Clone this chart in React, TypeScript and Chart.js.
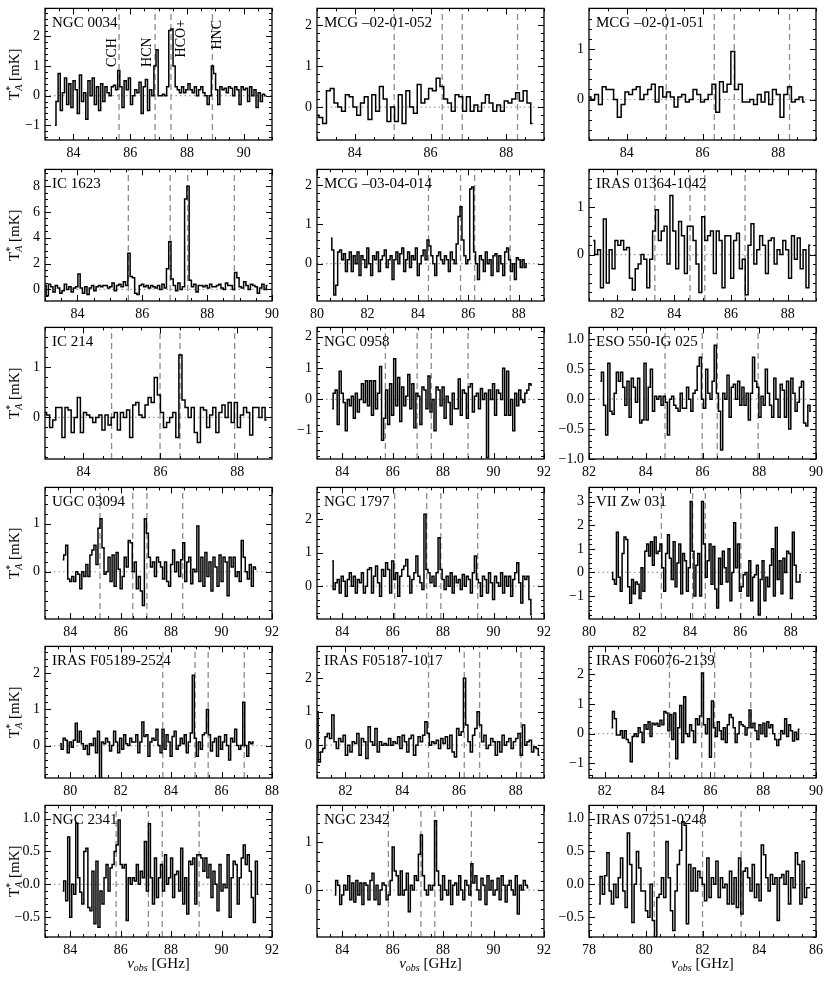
import React, { useEffect, useRef } from 'react';
import { Chart, registerables } from 'chart.js';
Chart.register(...registerables);

const FONT = '"Liberation Serif", "DejaVu Serif", serif';

const names = [
  'NGC 0034', 'MCG –02-01-052', 'MCG –02-01-051',
  'IC 1623', 'MCG –03-04-014', 'IRAS 01364-1042',
  'IC 214', 'NGC 0958', 'ESO 550-IG 025',
  'UGC 03094', 'NGC 1797', 'VII Zw 031',
  'IRAS F05189-2524', 'IRAS F05187-1017', 'IRAS F06076-2139',
  'NGC 2341', 'NGC 2342', 'IRAS 07251-0248',
];

// spectra (T*_A in mK), one value per channel
const NGC0034 = [-1.0, -0.2, 0.75, -0.5, 0.1, 0.6, -0.3, 0.4, -0.4, 0.5,
  0.2, -0.6, 0.7, -0.2, 0.1, -0.8, 0.5, 0.0, 0.6, -0.3,
  0.3, -0.5, 0.4, -0.2, 0.3, 0.1, 0.0, 0.3, 0.35, 0.2,
  0.85, 0.3, -0.4, 0.5, 0.2, 0.6, -0.3, 0.0, 0.2, 0.1,
  0.45, -0.6, 0.3, 0.55, -0.5, 0.2, 0.0, 1.0, 1.55, 0.0,
  0.0, 0.05, 0.0, 0.3, 2.2, 2.25, 1.0, 0.3, 0.2, 0.1,
  0.3, 0.1, 0.2, 0.4, 0.2, 0.1, 0.3, 0.0, 0.2, 0.3,
  0.1, 0.0, -0.3, 0.0, 1.0, 0.75, 0.2, -0.3, 0.3, 0.2,
  0.25, 0.1, 0.3, 0.25, 0.0, 0.3, 0.2, -0.3, 0.3, 0.2,
  0.25, -0.2, 0.3, 0.0, 0.2, -0.4, 0.1, -0.2, 0.05, 0.0];
const MCG0252 = [-0.2, -0.25, -0.4, 0.4, 0.45, 0.1, 0.0, -0.1, 0.3, 0.25,
  0.0, -0.2, 0.1, 0.25, -0.3, 0.3, -0.1, 0.5, 0.2, -0.35,
  0.0, -0.35, 0.3, -0.4, 0.4, 0.0, -0.15, 0.55, 0.1, 0.2,
  0.45, 0.4, 0.7, 0.5, 0.2, 0.1, -0.1, 0.3, 0.25, -0.1,
  0.25, -0.1, 0.05, -0.1, 0.1, 0.3, 0.1, -0.1, 0.05, -0.1,
  0.15, 0.1, 0.2, 0.35, 0.15, 0.4, 0.1, -0.4];
const MCG0251 = [0.05, 0.0, 0.1, -0.1, 0.25, 0.2, 0.2, 0.0, -0.35, -0.1,
  0.15, 0.1, 0.2, 0.25, 0.0, 0.1, 0.2, 0.3, -0.05, 0.25,
  0.05, 0.15, 0.05, -0.15, 0.05, 0.1, -0.05, 0.0, 0.2, 0.1,
  -0.05, 0.0, 0.1, 0.3, -0.25, 0.35, 0.15, 0.3, 0.95, 0.2,
  0.3, -0.05, -0.05, 0.0, -0.1, 0.1, -0.05, 0.15, -0.1, 0.2,
  0.1, -0.35, 0.1, 0.25, -0.05, 0.0, 0.05, -0.05];
const IC1623 = [0.3, -0.5, 0.4, 0.2, -0.2, 0.3, 0.1, -0.3, -0.1, 0.4,
  0.0, 0.2, -0.2, 0.1, 0.2, 1.2, 0.1, -0.3, 0.2, -0.4,
  0.1, 0.3, -0.1, 0.2, 0.3, 0.2, 0.3, 0.3, 0.1, 0.2,
  0.5, -0.1, 0.3, 0.4, 0.2, 0.6, 0.3, 2.8, 1.0, 0.9,
  -0.3, -0.4, 0.3, 0.4, 0.2, 0.3, 0.1, 0.3, 0.2, 0.1,
  0.3, 0.0, 0.4, 0.1, 1.6, 3.7, 0.8, 0.3, -0.1, 0.5,
  0.0, 0.2, 7.0, 8.0, 0.7, 0.2, 0.4, -0.2, 0.3, 0.3,
  0.2, 0.3, 0.1, 0.4, 0.2, 0.2, 0.3, 0.4, 0.1, 0.0,
  0.5, 0.3, 0.3, 0.0, 1.3, 0.9, 0.2, 0.1, 0.6, 0.3,
  0.0, 0.4, 0.3, 0.2, -0.3, 0.1, 0.4, 0.0, 0.3];
const MCG0304 = [0.65, 0.35, -0.8, -0.55, 0.3, 0.35, 0.1, 0.25, -0.2, 0.1,
  0.3, -0.2, 0.2, 0.0, 0.3, -0.3, 0.2, 0.1, -0.1, 0.4,
  0.0, -0.3, 0.2, 0.1, 0.3, -0.2, 0.1, 0.2, 0.35, -0.1,
  0.1, 0.2, -0.4, 0.1, 0.3, 0.0, 0.25, 0.4, -0.2, 0.1,
  0.3, -0.1, 0.2, 0.1, 0.4, -0.3, 0.0, 0.2, 0.35, 0.1,
  0.6, 0.45, 0.2, 0.0, -0.3, 0.2, 0.3, 0.1, 0.0, 0.2,
  0.1, -0.2, 0.3, 0.1, 0.0, 0.5, 1.2, 1.45, 0.6, 0.2,
  0.0, 0.1, 1.9, 1.95, 0.3, 0.0, -0.4, 0.2, 0.1, -0.2,
  0.3, 0.0, 0.1, -0.3, 0.2, 0.25, -0.2, 0.2, 0.0, -0.3,
  0.3, 0.4, 0.1, -0.2, 0.0, -0.4, 0.15, 0.1, -0.1, 0.1,
  -0.1, 0.0];
const IRAS01364 = [0.3, 0.0, 0.1, -0.7, 0.75, -0.6, 0.1, -0.3, 0.3, 0.2,
  0.3, 0.1, 0.15, -0.5, -0.75, -0.3, -0.2, 0.0, -0.1, -0.7,
  -0.1, 0.5, 0.95, 0.3, 0.5, 0.6, -0.2, 1.25, 0.5, -0.3,
  0.7, 0.4, -0.4, 0.6, 0.6, 0.3, -0.2, -0.8, 0.8, 0.3,
  0.4, 0.5, -0.4, 0.5, 0.3, -0.7, 0.4, 0.4, -0.5, 0.3,
  0.45, -0.3, -0.1, -0.85, 0.2, 0.65, -0.2, 0.1, 0.4, 0.2,
  -0.4, 0.3, 0.35, -0.2, 0.1, 0.0, 0.3, 0.1, -0.5, 0.4,
  -0.1, 0.35, -0.3, 0.1, -0.7, 0.2];
const IC214 = [0.1, 0.05, -0.2, -0.05, 0.2, 0.2, -0.4, 0.2, 0.15, -0.3,
  0.0, 0.4, -0.3, 0.1, 0.05, 0.0, -0.1, 0.0, 0.05, -0.25,
  0.05, -0.15, 0.0, 0.1, -0.25, 0.1, 0.0, 0.15, -0.4, 0.25,
  0.3, 0.05, 0.0, 0.25, 0.4, 0.3, 0.8, 0.45, 0.1, -0.2,
  -0.1, 0.0, 0.1, -0.4, 1.25, 0.35, 0.2, 0.0, 0.2, -0.3,
  -0.5, 0.2, 0.15, -0.2, 0.05, 0.2, -0.3, 0.1, 0.25, 0.0,
  0.3, -0.1, 0.3, -0.2, 0.05, 0.2, 0.1, -0.35, 0.2, 0.2,
  0.0, 0.2, -0.05];
const NGC0958 = [-0.3, 0.2, 0.3, -0.8, 0.9, 0.2, -0.1, -1.0, 0.0, -0.2,
  0.1, -0.6, 0.2, -0.4, 0.0, 0.5, -0.1, 0.6, -0.2, 0.6,
  -0.5, 0.6, -0.3, 0.2, 1.05, -1.3, -0.6, 0.3, -0.8, 0.5,
  -0.5, 1.3, -0.2, 0.7, -0.7, 0.4, -0.2, 0.1, 0.8, -0.3,
  0.5, -0.9, 0.2, 0.1, -0.8, 0.4, 0.3, -0.3, 0.75, -0.4,
  0.0, -1.0, 0.4, 0.3, -0.2, 0.4, -0.6, 0.1, -0.1, -0.8,
  0.2, -0.3, -0.3, 0.65, -0.5, 0.3, 0.2, -0.6, 0.4, 0.5,
  -0.4, 0.1, 0.2, -0.3, 0.35, 0.0, 0.2, -1.85, 0.3, 0.0,
  0.5, -0.5, 0.3, 0.2, 0.0, 1.0, -0.5, 0.9, -0.5, 0.0,
  -1.0, 0.2, -0.2, 0.3, 0.0, -0.1, 0.2, 0.3, 0.5, 0.45];
const ESO550 = [0.3, 0.45, -0.1, -0.6, 0.6, -0.2, -0.25, 0.1, 0.45, 0.3,
  0.45, 0.2, -0.1, 0.3, -0.3, 0.35, 0.2, -0.05, 0.35, -0.4,
  -0.35, 0.6, -0.35, 0.2, 0.5, -0.2, 0.05, 0.0, 0.05, -0.1,
  0.05, -0.05, -0.6, 0.0, 0.05, -0.1, -0.15, -0.2, 0.1, -0.15,
  -0.15, 0.2, 0.0, -0.2, 0.1, 0.15, 0.55, 0.7, 0.0, -0.15,
  0.5, 0.1, 0.0, 0.3, 0.9, 0.1, -0.2, -0.85, 0.1, 0.0,
  0.4, -0.3, 0.2, 0.25, 0.0, 0.3, -0.1, 0.2, -0.1, 0.1,
  -0.35, 0.1, 0.7, 0.3, 0.2, -0.3, 0.05, -0.1, 0.5, 0.1,
  -0.1, -0.3, 0.35, 0.0, -0.3, 0.25, 0.15, -0.3, 0.3, -0.5,
  0.35, 0.1, -0.2, -0.05, 0.2, 0.3, -0.4, -0.45, -0.1, -0.2];
const UGC03094 = [0.25, 0.35, 0.55, -0.15, -0.2, -0.1, -0.2, 0.0, -0.05, -0.35,
  0.0, -0.1, 0.15, -0.1, 0.35, 0.45, 0.55, 0.15, 0.9, 1.1,
  0.5, -0.05, 0.0, 0.3, -0.2, 0.35, -0.3, 0.4, 0.05, -0.35,
  -0.1, 0.3, 0.1, 0.65, 0.6, 0.0, 0.2, -0.35, -0.1, -0.4,
  -0.7, 1.1, 0.8, 0.3, 0.1, 0.2, -0.1, 0.3, 0.2, 0.1,
  -0.15, 0.2, -0.2, -0.3, 0.15, 0.45, 0.0, 0.2, -0.1, 0.25,
  0.6, -0.2, 0.2, 0.3, -0.25, 0.05, 0.0, 0.95, -0.2, 0.3,
  -0.3, 0.4, -0.1, 0.2, -0.4, 0.3, 0.1, -0.3, 0.35, -0.2,
  0.3, 0.2, -0.5, 0.3, 0.1, 0.3, -0.1, 0.0, -0.2, 0.65,
  0.3, 0.0, -0.15, 0.15, -0.3, 0.1, 0.05];
const NGC1797 = [0.75, -0.1, 0.1, 0.2, -0.2, 0.3, 0.15, -0.3, 0.2, 0.4,
  0.0, 0.3, -0.2, 0.2, 0.1, 0.4, -0.2, 0.0, 0.5, 0.55,
  -0.2, 0.3, 0.6, 0.1, -0.3, 0.5, 0.3, 0.7, 0.5, -0.2,
  0.75, 0.2, 0.4, -0.3, 0.3, 0.5, 0.6, 0.8, 0.3, -0.2,
  0.2, 0.4, 0.9, 0.3, 0.1, -0.1, 2.15, 0.5, 0.4, 0.1,
  0.3, 0.0, 0.4, 1.45, 0.5, 0.2, -0.1, 0.3, 0.0, 0.4,
  -0.2, 0.3, 0.1, 0.2, -0.1, 0.35, 0.0, 0.3, 0.2, -0.2,
  0.4, 0.9, 0.2, 0.1, -0.3, 0.3, 0.2, -0.2, 0.4, 0.1,
  -0.4, 0.3, 0.1, 0.0, 0.4, -0.2, 0.3, 0.0, 0.3, -0.3,
  0.2, 0.4, 0.7, 0.1, -0.5, 0.3, 0.2, 0.3, -0.4, -0.85];
const VIIZW031 = [0.0, -0.3, -0.5, 1.7, -0.2, -0.8, 0.8, 1.5, 1.4, -0.6,
  -1.3, -0.3, -0.9, -0.4, -0.5, -1.1, 0.2, -0.8, 0.9, 1.2,
  0.7, 1.3, 0.3, 1.5, 0.8, 0.9, 1.2, 0.2, -0.8, 0.8,
  1.6, 0.6, -0.3, 1.3, -0.6, 0.4, 1.2, -0.9, 0.8, 0.5,
  -0.8, 0.2, 3.0, 0.9, -1.0, 0.3, 0.8, -1.0, 3.0, 1.2,
  -0.2, 0.5, 1.2, -0.5, 1.1, -0.7, -1.5, 0.6, -0.5, 0.9,
  0.2, -0.4, 1.0, -1.2, 0.0, 2.1, 0.2, 1.2, -0.8, -0.6,
  -0.1, 0.0, -1.0, 0.5, -1.2, -0.2, -0.1, 0.3, -1.8, -0.3,
  0.5, -1.2, -0.2, -0.6, 0.3, 1.0, -1.0, 1.9, -0.3, 0.5,
  -0.9, 0.6, 0.0, 0.9, 0.8, -1.1, 1.7, 0.3, -0.4, -0.4,
  -0.1];
const F05189 = [0.05, -0.1, 0.2, 0.15, -0.2, 0.1, -0.05, 0.15, 0.62, 0.1,
  0.4, 0.05, -0.1, 0.0, -0.25, 0.05, 0.0, 0.2, -0.2, 0.4,
  -0.9, 0.1, 0.05, 0.2, 0.1, -0.15, 0.0, 0.4, 0.1, -0.2,
  0.2, -0.1, 0.3, 0.05, 0.0, 0.2, 0.1, 0.1, 0.3, -0.2,
  0.1, 0.65, 0.25, 0.3, -0.3, 0.1, 0.2, 0.15, 0.45, 0.0,
  -0.2, 0.45, -0.1, 0.3, 0.1, -0.3, 0.25, 0.4, -0.1, 0.0,
  0.2, 0.05, 0.3, -0.2, 0.1, 0.35, 1.95, 0.2, -0.3, 0.1,
  -0.1, 0.3, 0.35, 1.0, 0.3, -0.15, 0.1, 0.2, -0.3, 0.25,
  -0.1, 0.1, 0.3, 0.0, -0.4, 0.2, 0.1, 0.45, 0.0, -0.1,
  0.0, 1.2, 0.0, -0.3, 0.1, 0.05, 0.1];
const F05187 = [1.0, -0.5, -0.2, -0.1, 0.25, 0.35, 0.2, 0.9, 0.1, -0.1,
  0.2, 0.1, 0.3, -0.3, 0.0, -0.2, 0.1, 0.05, 0.35, -0.3,
  0.2, 0.1, -0.4, 0.55, 0.1, 0.0, 0.5, -0.2, 0.1, 0.0,
  0.05, 0.0, 0.2, 0.0, 0.1, 0.05, 0.25, -0.1, 0.3, 0.1,
  -0.2, 0.2, 0.3, -0.3, 0.0, 0.25, 0.1, 0.3, 0.7, 0.35,
  0.0, 0.1, 0.05, 0.15, -0.1, 0.2, 0.05, 0.25, -0.1, 0.3,
  -0.2, -0.35, 0.5, 0.3, 0.4, 2.0, 0.6, 0.1, -0.2, 0.3,
  0.5, 1.0, 0.6, 0.1, 0.3, -0.1, 0.0, 0.2, 0.1, -0.3,
  0.1, -0.2, 0.3, 0.0, 0.1, 0.2, -0.1, 0.1, 0.2, 0.35,
  -0.3, 0.6, 0.0, 0.1, 0.15, -0.2, -0.05, -0.1, -0.3];
const F06076 = [0.2, 0.75, 0.5, -0.05, -0.05, 0.1, -0.15, 0.1, -0.2, -0.3,
  -0.95, -0.1, 0.0, -0.1, 0.2, 0.05, -0.3, 0.3, 0.15, 0.4,
  -0.1, 0.35, 0.3, 0.35, 0.25, 0.45, 0.3, 0.75, 0.7, 0.1,
  0.65, -0.2, 0.7, -0.85, 0.2, 0.95, -0.3, 1.25, 0.0, -0.1,
  0.3, 0.1, -0.3, 0.5, 0.3, 0.6, 2.05, 0.3, 0.0, 0.5,
  -0.8, 1.1, 0.2, -0.1, 0.4, 0.1, -0.2, 0.2, -0.3, 0.3,
  0.65, 0.55, 0.2, -0.3, 0.0, 0.4, 0.3, 0.25, -0.05, 0.2,
  0.8, 0.2, 0.35, 0.1, -0.2, 0.3, 0.0, 0.35, -0.1, 0.4,
  0.2, 0.3, 0.0, -0.2, -0.4, -0.2, 0.1, 0.0, 0.5, -0.1,
  0.3, 0.1, -0.25, 0.05, -0.2, 0.15];
const NGC2341 = [-0.1, 0.05, -0.25, 0.72, -0.5, 0.0, -0.15, 0.93, 0.1, -0.12,
  -0.3, 0.5, 0.55, -0.35, -0.4, 0.2, -0.6, 0.35, -0.65, -0.1,
  -0.3, 0.1, 0.3, -0.1, 0.25, 0.3, 0.5, 0.6, 0.98, 0.3,
  0.25, 0.3, -0.55, 0.1, 0.0, 0.1, 0.05, 0.3, 0.0, 0.2,
  0.1, 0.65, -0.1, 0.92, 0.1, -0.3, 0.4, -0.2, 0.1, 0.3,
  -0.1, 0.45, 0.0, 0.1, 0.4, -0.2, 0.15, 0.2, -0.1, 0.55,
  -0.3, 0.1, -0.45, 0.35, 0.3, 0.4, -0.3, 0.45, 0.45, 0.4,
  0.2, 0.4, 0.1, 0.3, -0.2, 0.2, 0.0, -0.4, 0.3, -0.1,
  0.0, -0.05, 0.45, -0.5, 0.1, 0.35, 0.3, -0.3, 0.1, 0.4,
  0.6, 0.3, 0.45, 0.2, -0.2, -0.58, 0.35, -0.15];
const NGC2342 = [-0.1, 0.2, 0.1, -0.3, -0.1, 0.1, 0.0, 0.3, -0.2, 0.15,
  -0.25, 0.2, -0.1, 0.15, -0.3, 0.15, 0.1, -0.2, 0.2, 0.35,
  -0.2, 0.1, -0.3, 0.0, 0.15, 0.1, -0.2, -0.1, 0.2, 0.9,
  0.4, 0.3, -0.1, 0.4, -0.1, 0.0, 0.35, -0.45, 0.1, 0.0,
  0.3, 0.2, 0.75, 1.15, 0.3, 0.0, -0.1, 0.1, 0.0, 0.1,
  1.45, 0.4, 0.1, -0.2, 0.3, 0.0, -0.1, 0.2, -0.3, 0.1,
  0.15, -0.1, 0.3, 0.0, -0.2, 0.2, 0.1, -0.1, 0.55, 0.15,
  0.3, 0.0, -0.2, 0.25, 0.1, -0.3, 0.3, 0.0, 0.2, -0.1,
  0.0, 0.25, -0.2, 0.3, 0.1, -0.25, 0.1, 0.2, 0.0, -0.1,
  0.3, -0.5, 0.1, 0.0, 0.2, 0.1, 0.05];
const IRAS07251 = [-0.3, 0.12, -0.15, 0.13, 0.48, -0.1, -0.3, 0.0, -0.2, 0.1,
  0.4, -0.1, -0.35, 0.78, 0.3, -0.58, 0.0, 0.5, 0.25, -0.1,
  -0.1, -0.4, -0.5, 0.0, -0.55, -0.8, -0.2, -0.15, 0.1, -0.2,
  0.65, 0.1, -0.4, -0.7, -0.1, 0.3, 0.52, 0.95, 0.9, -0.6,
  0.3, -0.1, 0.25, -0.1, 0.2, 0.1, 0.0, -0.25, 0.4, -0.2,
  0.1, 0.0, 0.35, -0.2, 0.1, -0.05, 0.0, -0.3, 0.2, -0.3,
  0.1, -0.35, 0.4, -0.45, 0.2, 0.25, 0.1, -0.1, 0.3, -0.2,
  0.0, -0.25, 0.6, 0.45, 0.1, -0.1, 0.15, 0.0, 0.1, -0.55,
  0.1, 0.15, 0.0, 0.2, -0.3, 0.1, -0.05, 0.48, 0.3, -0.3,
  0.35, -0.2, -0.05, -0.05];

const spectra = [NGC0034, MCG0252, MCG0251, IC1623, MCG0304, IRAS01364, IC214, NGC0958, ESO550,
  UGC03094, NGC1797, VIIZW031, F05189, F05187, F06076, NGC2341, NGC2342, IRAS07251];

// first channel frequency and channel width (GHz)
const freqStart = [83.35, 83.0, 83.0, 83.0, 80.55, 81.15, 83.0, 83.6, 82.4,
  83.7, 83.6, 80.9, 79.6, 81.0, 82.25, 83.7, 83.7, 78.35];
const chanWidth = [0.075, 0.1, 0.1, 0.07, 0.077, 0.102, 0.08, 0.08, 0.075,
  0.08, 0.08, 0.075, 0.08, 0.08, 0.075, 0.08, 0.08, 0.08];

const xRange = [[83, 91], [83, 89], [83, 89], [83, 90], [80, 89], [81, 89], [83, 88.9], [83, 92], [82, 90],
  [83, 92], [83, 92], [80, 89], [79, 88], [81, 89], [81.4, 90], [83, 92], [83, 92], [78, 86]];
const yRange = [[-1.5, 2.95], [-0.8, 2.4], [-0.8, 1.8], [-0.9, 9.3], [-0.95, 2.4], [-0.98, 1.8], [-0.83, 1.8], [-1.9, 2.3], [-1.0, 1.2],
  [-0.98, 1.75], [-0.98, 2.95], [-1.97, 3.6], [-0.9, 2.75], [-0.98, 2.95], [-1.5, 2.95], [-0.8, 1.2], [-0.98, 1.77], [-0.8, 1.2]];
const xTickVals = [[84, 86, 88, 90], [84, 86, 88], [84, 86, 88], [84, 86, 88, 90], [80, 82, 84, 86, 88], [82, 84, 86, 88],
  [84, 86, 88], [84, 86, 88, 90, 92], [82, 84, 86, 88, 90], [84, 86, 88, 90, 92], [84, 86, 88, 90, 92], [80, 82, 84, 86, 88],
  [80, 82, 84, 86, 88], [82, 84, 86, 88], [82, 84, 86, 88, 90], [84, 86, 88, 90, 92], [84, 86, 88, 90, 92], [78, 80, 82, 84, 86]];
const yTickVals = [[-1, 0, 1, 2], [0, 1, 2], [0, 1], [0, 2, 4, 6, 8], [0, 1, 2], [0, 1], [0, 1], [-1, 0, 1, 2], [-1, -0.5, 0, 0.5, 1],
  [0, 1], [0, 1, 2], [-1, 0, 1, 2, 3], [0, 1, 2], [0, 1, 2], [-1, 0, 1, 2], [-0.5, 0, 0.5, 1], [0, 1], [-0.5, 0, 0.5, 1]];
const yDecimals = [0, 0, 0, 0, 0, 0, 0, 0, 1, 0, 0, 0, 0, 0, 0, 1, 0, 1];
const yMinorStep = [0.2, 0.2, 0.2, 0.5, 0.2, 0.2, 0.2, 0.2, 0.1, 0.2, 0.2, 0.2, 0.2, 0.2, 0.2, 0.1, 0.2, 0.1];
const xMinorStep = 0.5;

// redshifted CCH, HCN, HCO+, HNC positions (GHz)
const lineFreqs = [[85.61, 86.88, 87.44, 88.90], [85.04, 86.31, 86.84, 88.30], [85.04, 86.31, 86.84, 88.30],
  [85.57, 86.86, 87.40, 88.84], [84.42, 85.69, 86.25, 87.66], [83.32, 84.56, 85.08, 86.50],
  [84.73, 85.99, 86.51, 87.93], [85.71, 86.97, 87.53, 88.99], [84.68, 85.99, 86.52, 87.96],
  [85.18, 86.48, 87.04, 88.46], [86.08, 87.35, 87.91, 89.37], [82.87, 84.11, 84.61, 86.02],
  [83.67, 84.95, 85.47, 86.90], [84.93, 86.19, 86.73, 88.19], [84.45, 85.67, 86.16, 87.53],
  [85.82, 87.10, 87.65, 89.11], [85.83, 87.12, 87.67, 89.12], [80.30, 82.00, 83.36]];
const lineNames = ['CCH', 'HCN', 'HCO+', 'HNC'];
const lineLabelX = [85.36, 86.59, 87.82, 89.06];
const lineLabelY = [0.97, 0.97, 2.56, 2.56];

const COL_LEFT = [45, 317, 589];
const ROW_TOP = [7, 168, 326, 486, 645, 804];
const PW = 227, PH = 133;
const PAD_L = 45, PAD_T = 12, PAD_R = 14, PAD_B = 44;

const fmt = (v: number, d: number) => (d ? v.toFixed(d) : String(Math.round(v))).replace('-', '\u2212');

function drawParts(ctx: CanvasRenderingContext2D, parts: any[], cx: number, cy: number) {
  let total = 0;
  const widths = parts.map((p) => {
    ctx.font = p.font;
    return ctx.measureText(p.t).width;
  });
  parts.forEach((p, i) => { if (!p.stack) total += widths[i]; });
  let x = cx - total / 2;
  parts.forEach((p, i) => {
    ctx.font = p.font;
    ctx.fillText(p.t, x, cy + p.dy);
    if (!p.hold) x += widths[i];
  });
}

function makeDeco(idx: number) {
  const row = Math.floor(idx / 3), col = idx % 3;
  return {
    id: 'deco' + idx,
    afterDraw(chart: any) {
      const ctx: CanvasRenderingContext2D = chart.ctx;
      const a = chart.chartArea;
      const xs = chart.scales.x, ys = chart.scales.y;
      ctx.save();
      ctx.strokeStyle = '#000';
      ctx.lineWidth = 1;
      const seg = (x1: number, y1: number, x2: number, y2: number) => {
        ctx.beginPath(); ctx.moveTo(x1, y1); ctx.lineTo(x2, y2); ctx.stroke();
      };
      const xt = (v: number, len: number) => {
        const p = Math.round(xs.getPixelForValue(v)) + 0.5;
        seg(p, a.bottom, p, a.bottom - len); seg(p, a.top, p, a.top + len);
      };
      const yt = (v: number, len: number) => {
        const p = Math.round(ys.getPixelForValue(v)) + 0.5;
        seg(a.left, p, a.left + len, p); seg(a.right, p, a.right - len, p);
      };
      const minors = (mn: number, mx: number, st: number) => {
        const out: number[] = [];
        for (let k = Math.ceil(mn / st - 1e-6); k <= Math.floor(mx / st + 1e-6); k++) out.push(k * st);
        return out;
      };
      minors(xs.min, xs.max, xMinorStep).forEach((v) => xt(v, 3));
      xTickVals[idx].forEach((v) => xt(v, 6));
      minors(ys.min, ys.max, yMinorStep[idx]).forEach((v) => yt(v, 3));
      yTickVals[idx].forEach((v) => yt(v, 6));
      ctx.lineWidth = 1.3;
      ctx.strokeRect(a.left, a.top, a.right - a.left, a.bottom - a.top);

      ctx.fillStyle = '#000';
      ctx.textAlign = 'left';
      ctx.textBaseline = 'alphabetic';
      ctx.font = '15px ' + FONT;
      ctx.fillText(names[idx], a.left + 7, a.top + 19);

      if (idx === 0) {
        ctx.font = '14px ' + FONT;
        ctx.textBaseline = 'middle';
        lineNames.forEach((t, i) => {
          ctx.save();
          ctx.translate(xs.getPixelForValue(lineLabelX[i]), ys.getPixelForValue(lineLabelY[i]));
          ctx.rotate(-Math.PI / 2);
          ctx.textAlign = i < 2 ? 'left' : 'right';
          ctx.fillText(t, 0, 0);
          ctx.restore();
        });
        ctx.textBaseline = 'alphabetic';
        ctx.textAlign = 'left';
      }
      if (col === 0) {
        ctx.save();
        ctx.translate(19, (a.top + a.bottom) / 2);
        ctx.rotate(-Math.PI / 2);
        drawParts(ctx, [
          { t: 'T', font: '15px ' + FONT, dy: 0 },
          { t: '*', font: '10px ' + FONT, dy: -6, hold: true, stack: true },
          { t: 'A', font: 'italic 10px ' + FONT, dy: 3 },
          { t: ' [mK]', font: '15px ' + FONT, dy: 0 },
        ], 0, 0);
        ctx.restore();
      }
      if (row === 5) {
        drawParts(ctx, [
          { t: 'ν', font: 'italic 15px ' + FONT, dy: 0 },
          { t: 'obs', font: 'italic 10px ' + FONT, dy: 3 },
          { t: ' [GHz]', font: '15px ' + FONT, dy: 0 },
        ], (a.left + a.right) / 2, a.bottom + 31);
      }
      ctx.restore();
    },
  };
}

function Panel({ idx }: { idx: number }) {
  const ref = useRef<HTMLCanvasElement>(null);
  const row = Math.floor(idx / 3), col = idx % 3;
  const W = PAD_L + PW + PAD_R, H = PAD_T + PH + PAD_B;
  useEffect(() => {
    const [x0, x1] = xRange[idx];
    const [y0, y1] = yRange[idx];
    const spec = spectra[idx].map((v, i) => ({ x: freqStart[idx] + i * chanWidth[idx], y: v }));
    const datasets: any[] = [
      { data: spec, borderColor: '#000', borderWidth: 1.5, stepped: 'middle', pointRadius: 0, order: 0 },
      { data: [{ x: x0, y: 0 }, { x: x1, y: 0 }], borderColor: '#9a9a9a', borderWidth: 1.2, borderDash: [1.5, 3], pointRadius: 0, order: 3 },
    ];
    lineFreqs[idx].forEach((f) => {
      datasets.push({ data: [{ x: f, y: y0 }, { x: f, y: y1 }], borderColor: '#8c8c8c', borderWidth: 1.3, borderDash: [6, 4], pointRadius: 0, order: 2 });
    });
    const tickFont = { family: FONT, size: 14 };
    const chart = new Chart(ref.current as HTMLCanvasElement, {
      type: 'line',
      data: { datasets },
      options: {
        animation: false,
        responsive: false,
        maintainAspectRatio: false,
        events: [],
        layout: { padding: { top: PAD_T, right: PAD_R, left: 0, bottom: 0 } },
        plugins: { legend: { display: false }, tooltip: { enabled: false }, title: { display: false } },
        scales: {
          x: {
            type: 'linear', min: x0, max: x1,
            grid: { display: false, drawTicks: false }, border: { display: false },
            afterBuildTicks: (s: any) => { s.ticks = xTickVals[idx].map((v) => ({ value: v })); },
            afterFit: (s: any) => { s.height = PAD_B; },
            ticks: { font: tickFont, color: '#000', padding: 5, maxRotation: 0, autoSkip: false, callback: (v: any) => fmt(Number(v), 0) },
          },
          y: {
            type: 'linear', min: y0, max: y1,
            grid: { display: false, drawTicks: false }, border: { display: false },
            afterBuildTicks: (s: any) => { s.ticks = yTickVals[idx].map((v) => ({ value: v })); },
            afterFit: (s: any) => { s.width = PAD_L; },
            ticks: { font: tickFont, color: '#000', padding: 5, autoSkip: false, callback: (v: any) => fmt(Number(v), yDecimals[idx]) },
          },
        },
      } as any,
      plugins: [makeDeco(idx)],
    });
    return () => chart.destroy();
  }, []);
  return (
    <canvas ref={ref} width={W} height={H}
      style={{ position: 'absolute', left: COL_LEFT[col] - PAD_L, top: ROW_TOP[row] - PAD_T, width: W, height: H }} />
  );
}

export default function App() {
  return (
    <div style={{ position: 'absolute', left: 0, top: 0, width: 831, height: 981, background: '#fff' }}>
      {names.map((_, i) => <Panel key={i} idx={i} />)}
    </div>
  );
}
